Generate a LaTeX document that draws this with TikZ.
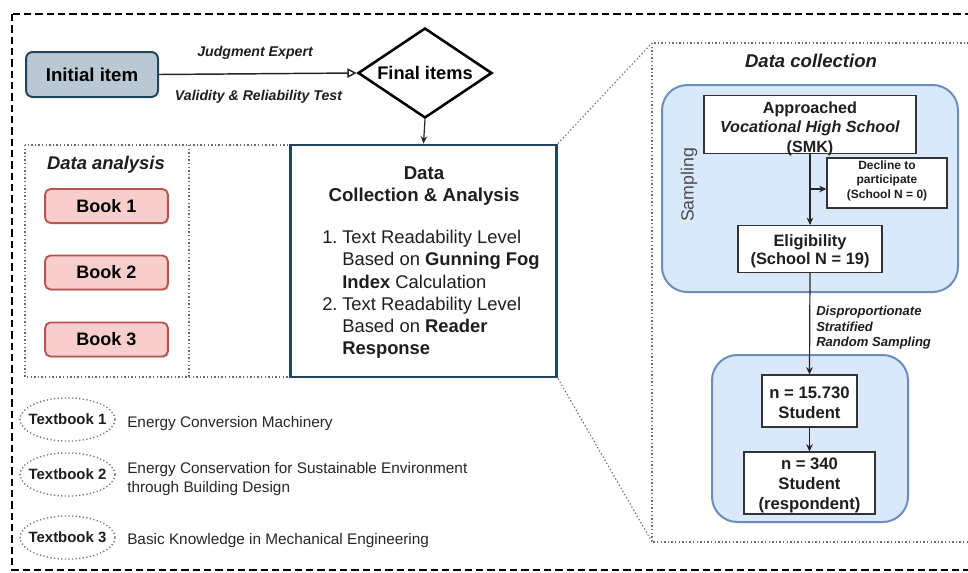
\documentclass[tikz,border=0pt]{standalone}
\usepackage{fontspec}
\setmainfont{Liberation Sans}
\usetikzlibrary{shapes.geometric,arrows.meta,shadows}

\definecolor{slatefill}{HTML}{BAC8D3}
\definecolor{slatedraw}{HTML}{23445D}
\definecolor{bookfill}{HTML}{F8CECC}
\definecolor{bookdraw}{HTML}{B85450}
\definecolor{sampfill}{HTML}{DAE8FC}
\definecolor{sampdraw}{HTML}{6C8EBF}
\definecolor{dotgrey}{HTML}{6E6E6E}
\definecolor{txtdark}{HTML}{1E1E1E}

\newcommand{\fsz}[2]{\fontsize{#1}{#2}\selectfont}

\tikzset{
  outerframe/.style={draw=black, line width=1.1pt, dash pattern=on 5.5pt off 3pt},
  dotframe/.style={draw=dotgrey, line width=0.8pt, dash pattern=on 1.1pt off 1.6pt},
  initbox/.style={draw=slatedraw, fill=slatefill, line width=1.5pt, rounded corners=5pt,
    minimum width=99pt, minimum height=33.75pt, inner sep=0pt, font=\bfseries\fsz{14}{16}},
  decision/.style={diamond, draw=black, line width=1.9pt, aspect=1.5, inner sep=0pt,
    minimum width=100.5pt, minimum height=67.5pt, font=\bfseries\fsz{13.7}{16}},
  mainbox/.style={draw=slatedraw, line width=2.2pt, minimum width=199.5pt,
    minimum height=174pt, inner sep=0pt},
  bookbox/.style={draw=bookdraw, fill=bookfill, line width=1.4pt, rounded corners=4pt,
    minimum width=92pt, minimum height=25.5pt, inner sep=0pt, font=\bfseries\fsz{13.5}{16},
    drop shadow={shadow xshift=1.2pt, shadow yshift=-1.2pt, opacity=0.25}},
  ovalline/.style={draw=dotgrey, line width=1pt, dash pattern=on 0.9pt off 1.8pt},
  ovaltext/.style={inner sep=0pt, font=\bfseries\fsz{11.2}{13}, text=txtdark},
  groupbox/.style={draw=sampdraw, fill=sampfill, line width=1.5pt, rounded corners=19pt,
    inner sep=0pt},
  whitebox/.style={draw=black!80, fill=white, line width=0.8pt, inner sep=0pt},
  lbl/.style={inner sep=0pt, text=txtdark},
  arr/.style={draw=black!85, line width=0.9pt, -{Stealth[length=5.5pt, width=5pt]}},
}

\begin{document}
\begin{tikzpicture}[x=0.75pt, y=-0.75pt]
\useasboundingbox (0,0) rectangle (968,572);

% outer dashed frame and the data-collection zoom frame
\path[outerframe] (12,14) rectangle (990,570);
\path[dotframe] (652,43) rectangle (990,542);

% data analysis panel
\path[dotframe] (25,145) rectangle (290,377);
\path[dotframe] (189,145) -- (189,377);

% top row
\node[initbox] (init) at (92,74.5) {Initial item};
\node[decision] (final) at (425,73) {Final items};
\draw[draw=black!85, line width=1.1pt, -{Triangle[open, length=7pt, width=7pt]}]
  (init.east) -- (final.west);
\node[lbl, font=\bfseries\itshape\fsz{10.6}{12}, anchor=base] (judg) at (255,56) {Judgment Expert};
\node[lbl, font=\bfseries\itshape\fsz{10.6}{12}, anchor=base] (valid) at (258.5,100) {Validity \& Reliability Test};

% central box (multi-line labels are placed by the baseline of their last line)
\node[mainbox] (dca) at (423.5,261) {};
\draw[arr] (final.south) -- (dca.north);
\node[lbl, font=\bfseries\fsz{14}{16.5}, align=center, anchor=base] (dcatitle) at (424,201.7)
  {Data\\Collection \& Analysis};
\node[lbl, font=\fsz{13.8}{16.65}, align=left, anchor=base west] (dcalist) at (322,354.6)
  {\makebox[15pt][l]{1.}Text Readability Level\\
   \hspace*{15pt}Based on \textbf{Gunning Fog}\\
   \hspace*{15pt}\textbf{Index} Calculation\\
   \makebox[15pt][l]{2.}Text Readability Level\\
   \hspace*{15pt}Based on \textbf{Reader}\\
   \hspace*{15pt}\textbf{Response}};

% books
\node[lbl, font=\bfseries\itshape\fsz{13.8}{16}, anchor=base] (datl) at (106,169.5) {Data analysis};
\node[bookbox] (b1) at (106.5,206) {Book 1};
\node[bookbox] (b2) at (106.5,272.5) {Book 2};
\node[bookbox] (b3) at (106.5,339.5) {Book 3};

% textbook legend
\node[ovaltext] (t1) at (67.5,419.5) {Textbook 1};
\node[ovaltext] (t2) at (67.5,474.5) {Textbook 2};
\node[ovaltext] (t3) at (67.5,537.5) {Textbook 3};
\foreach \t in {t1,t2,t3}
  \path[ovalline] (\t.center) ellipse [x radius=35.6pt, y radius=16.2pt];
\node[lbl, font=\fsz{11.5}{14.25}, text=black!85, anchor=base west] (d1) at (127,427.5)
  {Energy Conversion Machinery};
\node[lbl, font=\fsz{11.5}{14.25}, text=black!85, align=left, anchor=base west] (d2) at (127,492.5)
  {Energy Conservation for Sustainable Environment\\through Building Design};
\node[lbl, font=\fsz{11.5}{14.25}, text=black!85, anchor=base west] (d3) at (127,544.5)
  {Basic Knowledge in Mechanical Engineering};

% zoom guide lines
\path[dotframe] (dca.north east) -- (652,43);
\path[dotframe] (dca.south east) -- (652,542);

% data collection panel
\node[lbl, font=\bfseries\itshape\fsz{13.9}{16}, anchor=base] (dcoll) at (811,67.5) {Data collection};
\node[groupbox, minimum width=222pt, minimum height=155.25pt] (sampling) at (810,188.5) {};
\node[groupbox, minimum width=147pt, minimum height=125.25pt] (students) at (810,438.5) {};
\node[lbl, font=\fsz{13.3}{16}, text=black!70, rotate=90] (samplbl) at (689,185) {Sampling};

\node[whitebox, minimum width=159pt, minimum height=44pt] (appr) at (810,124.5) {};
\node[lbl, font=\bfseries\fsz{12.1}{14.6}, align=center, anchor=base] (apprtxt) at (810,152)
  {Approached\\\textit{Vocational High School}\\(SMK)};

\node[whitebox, minimum width=90pt, minimum height=37.5pt] (decl) at (887,183) {};
\node[lbl, font=\bfseries\fsz{9}{10.9}, align=center, anchor=base] (decltxt) at (887,198.5)
  {Decline to\\participate\\(School N = 0)};

\node[whitebox, minimum width=108pt, minimum height=35.25pt] (elig) at (810,249) {};
\node[lbl, font=\bfseries\fsz{12.3}{13.5}, align=center, anchor=base] (eligtxt) at (810,264)
  {Eligibility\\(School N = 19)};

\coordinate (split) at (810,189);
\draw[arr] (appr.south) -- (elig.north);
\draw[arr] (split) -- (split -| decl.west);

\node[whitebox, minimum width=71.25pt, minimum height=39pt] (n1) at (809.5,401) {};
\node[lbl, font=\bfseries\fsz{12.5}{15}, align=center, anchor=base] (n1txt) at (809.5,418)
  {n = 15.730\\Student};

\node[whitebox, minimum width=98.25pt, minimum height=46.5pt] (n2) at (809.5,483) {};
\node[lbl, font=\bfseries\fsz{12.5}{15}, align=center, anchor=base] (n2txt) at (809.5,509)
  {n = 340\\Student\\(respondent)};

\draw[arr] (elig.south) -- (n1.north);
\draw[arr] (n1.south) -- (n2.north);
\node[lbl, font=\bfseries\itshape\fsz{9.8}{11.6}, align=left, anchor=base west] (dsrs) at (816,346.7)
  {Disproportionate\\Stratified\\Random Sampling};
\end{tikzpicture}
\end{document}
